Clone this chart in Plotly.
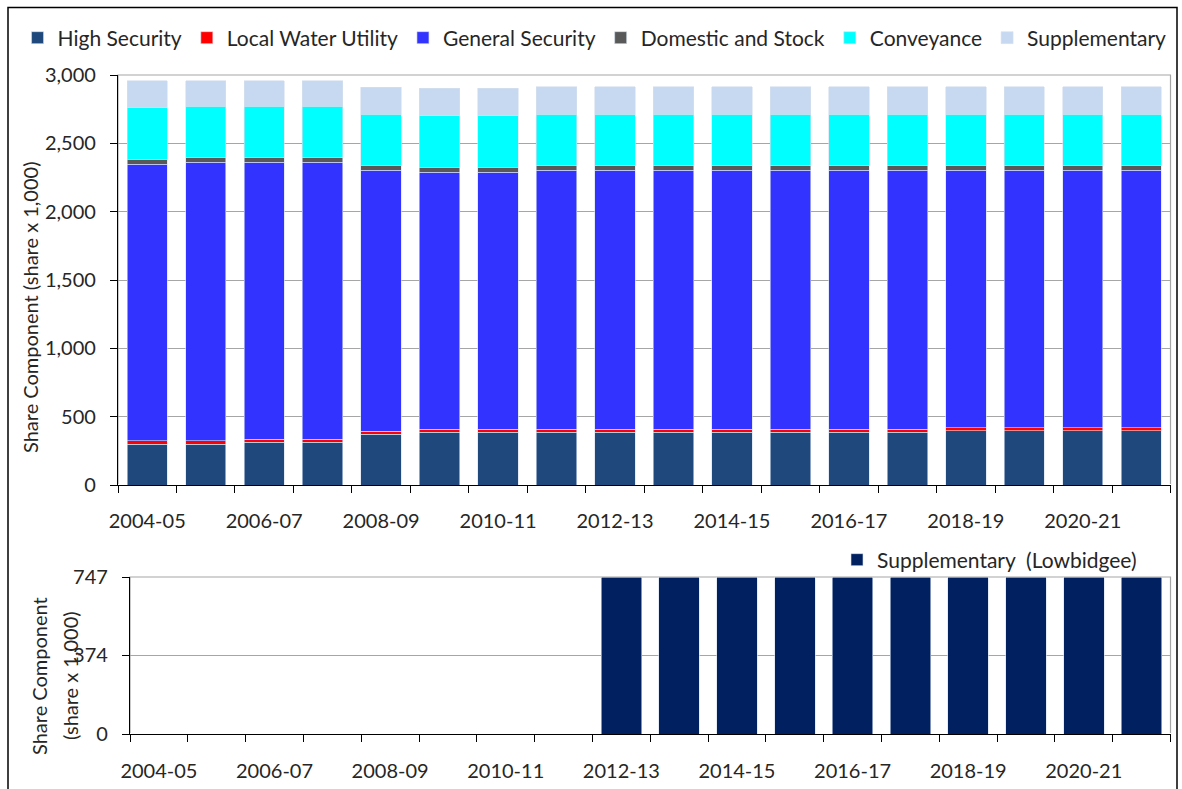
import plotly.graph_objects as go

seasons = ["2004-05", "2005-06", "2006-07", "2007-08", "2008-09", "2009-10",
           "2010-11", "2011-12", "2012-13", "2013-14", "2014-15", "2015-16",
           "2016-17", "2017-18", "2018-19", "2019-20", "2020-21", "2021-22"]
tick_labels = ["2004-05", "", "2006-07", "", "2008-09", "", "2010-11", "",
               "2012-13", "", "2014-15", "", "2016-17", "", "2018-19", "",
               "2020-21", ""]

high_security = [300, 300, 312, 312, 372, 385, 385, 385, 385, 385, 385, 385,
                 385, 385, 397, 397, 397, 397]
local_water_utility = [23, 23, 23, 23, 23, 23, 23, 23, 23, 23, 23, 23,
                       23, 23, 23, 23, 23, 23]
general_security = [2025, 2037, 2025, 2025, 1907, 1881, 1881, 1894, 1894, 1894,
                    1894, 1894, 1894, 1894, 1882, 1882, 1882, 1882]
domestic_stock = [34, 35, 35, 35, 36, 35, 35, 35, 35, 35, 35, 35,
                  35, 35, 35, 35, 35, 35]
conveyance = [379, 378, 378, 378, 374, 378, 378, 376, 376, 376, 376, 376,
              376, 376, 376, 376, 376, 376]
supplementary = [198, 186, 186, 186, 200, 201, 201, 200, 200, 200, 200, 200,
                 200, 200, 200, 200, 200, 200]
lowbidgee = [0, 0, 0, 0, 0, 0, 0, 0, 747, 747, 747, 747, 747, 747, 747, 747,
             747, 747]

top_series = [
    ("High Security", high_security, "#1F497D"),
    ("Local Water Utility", local_water_utility, "#FF0000"),
    ("General Security", general_security, "#3333FF"),
    ("Domestic and Stock", domestic_stock, "#595959"),
    ("Conveyance", conveyance, "#00FFFF"),
    ("Supplementary", supplementary, "#C6D9F1"),
]

FONT = "Lato"
TXT = "#262626"
FS = 20
W, H = 1182, 789

fig = go.Figure()
for name, vals, color in top_series:
    fig.add_trace(go.Bar(
        x=seasons, y=vals, name=name, width=0.69,
        marker=dict(color=color, line=dict(color="#D6E0EE", width=0.6)),
        xaxis="x", yaxis="y", legend="legend"))

fig.add_trace(go.Bar(
    x=seasons, y=lowbidgee, name="Supplementary\u00a0 (Lowbidgee)", width=0.70,
    marker=dict(color="#002060", line=dict(color="#D6E0EE", width=0.6)),
    xaxis="x2", yaxis="y2", legend="legend2"))

axis_common = dict(
    showline=True, linecolor="black", linewidth=1.2,
    ticks="outside", ticklen=7, tickcolor="black", tickwidth=1.2,
    tickfont=dict(family=FONT, size=FS, color=TXT), automargin=False,
)

fig.update_layout(
    width=W, height=H,
    margin=dict(l=0, r=0, t=0, b=0, pad=0, autoexpand=False),
    paper_bgcolor="white", plot_bgcolor="white",
    barmode="stack",
    font=dict(family=FONT, size=FS, color=TXT),
    xaxis=dict(
        domain=[118 / W, 1170.5 / W], anchor="y", type="category",
        range=[-0.5, 17.5], tickson="boundaries",
        tickvals=seasons, ticktext=tick_labels, tickangle=0,
        showgrid=False, ticklabelstandoff=18, **axis_common),
    yaxis=dict(
        domain=[(H - 485) / H, (H - 75) / H], anchor="x",
        range=[0, 3000], dtick=500, tickformat=",",
        showgrid=True, gridcolor="#A6A6A6", gridwidth=1,
        ticklabelstandoff=10, **axis_common),
    xaxis2=dict(
        domain=[130 / W, 1170.5 / W], anchor="y2", type="category",
        range=[-0.5, 17.5], tickson="boundaries",
        tickvals=seasons, ticktext=tick_labels, tickangle=0,
        showgrid=False, ticklabelstandoff=19, **axis_common),
    yaxis2=dict(
        domain=[(H - 734) / H, (H - 577) / H], anchor="x2",
        range=[0, 747], tickvals=[0, 374, 747],
        showgrid=True, gridcolor="#A6A6A6", gridwidth=1,
        ticklabelstandoff=10, **axis_common),
    legend=dict(
        orientation="h", x=0.503, xanchor="center",
        y=(H - 38) / H, yanchor="middle",
        font=dict(family=FONT, size=21, color=TXT),
        itemwidth=30, traceorder="normal", bgcolor="rgba(0,0,0,0)"),
    legend2=dict(
        orientation="h", x=1142 / W, xanchor="right",
        y=(H - 560) / H, yanchor="middle",
        font=dict(family=FONT, size=21, color=TXT),
        itemwidth=30, bgcolor="rgba(0,0,0,0)"),
    showlegend=True,
)

# plot area borders (grey) and outer frame
fig.add_shape(type="rect", xref="x domain", yref="y domain", x0=0, x1=1, y0=0, y1=1,
              line=dict(color="#A6A6A6", width=1.2), layer="below")
fig.add_shape(type="rect", xref="x2 domain", yref="y2 domain", x0=0, x1=1, y0=0, y1=1,
              line=dict(color="#A6A6A6", width=1.2), layer="below")
fig.add_shape(type="rect", xref="paper", yref="paper",
              x0=8 / W, x1=1177 / W, y0=-0.02, y1=(H - 7.5) / H,
              line=dict(color="black", width=1.5))

fig.add_annotation(text="Share Component (share x 1,000)", xref="paper", yref="paper",
                   x=30 / W, y=(H - 307) / H, xanchor="center", yanchor="middle",
                   textangle=-90, showarrow=False,
                   font=dict(family=FONT, size=FS, color=TXT))
fig.add_annotation(text="Share Component", xref="paper", yref="paper",
                   x=39 / W, y=(H - 676) / H, xanchor="center", yanchor="middle",
                   textangle=-90, showarrow=False,
                   font=dict(family=FONT, size=FS, color=TXT))
fig.add_annotation(text="(share x 1,000)", xref="paper", yref="paper",
                   x=70 / W, y=(H - 676) / H, xanchor="center", yanchor="middle",
                   textangle=-90, showarrow=False,
                   font=dict(family=FONT, size=FS, color=TXT))

fig.write_html(
    "out.html",
    config={"displayModeBar": False},
    post_script="document.body.style.margin='0';document.body.style.overflow='hidden';",
)
